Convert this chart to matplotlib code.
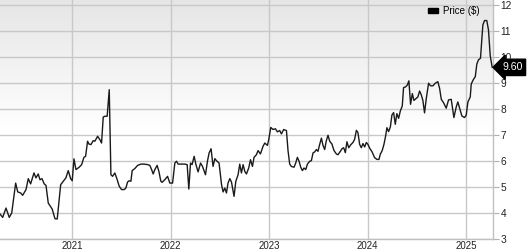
import numpy as np
import matplotlib
matplotlib.use("Agg")
import matplotlib.pyplot as plt
import matplotlib.transforms as mtransforms
from matplotlib.patches import Patch

plt.rcParams['font.family'] = ['Liberation Sans', 'DejaVu Sans']

# ---------------------------------------------------------------------------
# Data: weekly close price (x in decimal years)
# ---------------------------------------------------------------------------

years = [
    2020.267, 2020.294, 2020.328, 2020.361, 2020.386, 2020.402, 2020.426, 2020.447,
    2020.477, 2020.497, 2020.531, 2020.554, 2020.578, 2020.612, 2020.632, 2020.655,
    2020.673, 2020.693, 2020.716, 2020.734, 2020.757, 2020.774, 2020.797, 2020.825,
    2020.848, 2020.868, 2020.883, 2020.909, 2020.936, 2020.960, 2020.984, 2021.000,
    2021.018, 2021.038, 2021.071, 2021.096, 2021.119, 2021.136, 2021.156, 2021.170,
    2021.190, 2021.213, 2021.230, 2021.258, 2021.281, 2021.298, 2021.315, 2021.332,
    2021.355, 2021.376, 2021.393, 2021.410, 2021.433, 2021.457, 2021.477, 2021.501,
    2021.528, 2021.545, 2021.562, 2021.578, 2021.596, 2021.609, 2021.636, 2021.664,
    2021.697, 2021.731, 2021.765, 2021.788, 2021.806, 2021.822, 2021.839, 2021.862,
    2021.880, 2021.900, 2021.913, 2021.940, 2021.968, 2021.991, 2022.019, 2022.042,
    2022.059, 2022.075, 2022.110, 2022.143, 2022.167, 2022.184, 2022.201, 2022.217,
    2022.238, 2022.255, 2022.278, 2022.303, 2022.323, 2022.353, 2022.374, 2022.390,
    2022.410, 2022.430, 2022.448, 2022.465, 2022.491, 2022.516, 2022.532, 2022.549,
    2022.566, 2022.582, 2022.600, 2022.617, 2022.643, 2022.661, 2022.684, 2022.701,
    2022.718, 2022.735, 2022.752, 2022.769, 2022.792, 2022.810, 2022.830, 2022.846,
    2022.870, 2022.887, 2022.911, 2022.937, 2022.955, 2022.982, 2022.995, 2023.016,
    2023.039, 2023.063, 2023.083, 2023.107, 2023.124, 2023.147, 2023.175, 2023.191,
    2023.208, 2023.225, 2023.252, 2023.269, 2023.286, 2023.303, 2023.320, 2023.337,
    2023.353, 2023.371, 2023.388, 2023.411, 2023.428, 2023.445, 2023.462, 2023.479,
    2023.495, 2023.512, 2023.530, 2023.546, 2023.563, 2023.580, 2023.597, 2023.614,
    2023.637, 2023.658, 2023.682, 2023.698, 2023.722, 2023.739, 2023.756, 2023.773,
    2023.789, 2023.807, 2023.827, 2023.850, 2023.867, 2023.885, 2023.901, 2023.918,
    2023.935, 2023.952, 2023.969, 2023.986, 2024.002, 2024.020, 2024.043, 2024.070,
    2024.094, 2024.114, 2024.128, 2024.148, 2024.165, 2024.182, 2024.195, 2024.212,
    2024.230, 2024.246, 2024.263, 2024.280, 2024.296, 2024.314, 2024.331, 2024.351,
    2024.364, 2024.385, 2024.402, 2024.418, 2024.435, 2024.453, 2024.469, 2024.493,
    2024.509, 2024.527, 2024.544, 2024.560, 2024.577, 2024.595, 2024.618, 2024.638,
    2024.662, 2024.686, 2024.712, 2024.730, 2024.747, 2024.770, 2024.797, 2024.821,
    2024.848, 2024.875, 2024.899, 2024.915, 2024.932, 2024.956, 2024.983, 2025.000,
    2025.017, 2025.041, 2025.051, 2025.074, 2025.092, 2025.108, 2025.125, 2025.145,
    2025.169, 2025.186, 2025.209, 2025.226, 2025.244, 2025.264,
]

prices = [
    3.96, 3.83, 4.19, 3.83, 4.00, 4.45, 5.15, 4.81,
    4.77, 4.68, 4.90, 5.32, 5.12, 5.54, 5.35, 5.50,
    5.28, 5.32, 5.12, 5.06, 4.38, 4.28, 4.15, 3.78,
    3.77, 4.51, 5.09, 5.22, 5.35, 5.63, 5.32, 5.24,
    6.08, 5.67, 5.76, 5.86, 6.14, 6.18, 6.76, 6.65,
    6.63, 6.78, 6.76, 6.95, 6.82, 6.69, 7.69, 7.72,
    7.72, 8.74, 5.47, 5.41, 5.54, 5.28, 5.03, 4.90,
    4.90, 4.96, 5.19, 5.24, 5.22, 5.63, 5.71, 5.83,
    5.88, 5.88, 5.86, 5.83, 5.67, 5.50, 5.67, 5.83,
    5.60, 5.22, 5.18, 5.28, 5.41, 5.15, 5.15, 5.92,
    5.99, 5.88, 5.88, 5.88, 5.86, 4.92, 5.92, 5.86,
    6.18, 5.88, 5.58, 5.92, 5.79, 5.47, 6.01, 6.31,
    6.47, 5.79, 6.09, 6.01, 5.92, 5.09, 4.81, 4.96,
    4.77, 5.15, 5.32, 5.19, 4.64, 5.22, 5.47, 5.88,
    5.54, 5.86, 5.60, 5.50, 5.73, 6.05, 5.79, 6.14,
    6.24, 6.40, 6.27, 6.56, 6.69, 6.60, 6.82, 7.29,
    7.21, 7.24, 7.12, 7.17, 7.04, 7.21, 7.17, 6.40,
    5.88, 5.79, 5.76, 5.92, 6.14, 5.99, 5.76, 5.63,
    5.73, 5.67, 5.88, 5.99, 6.01, 6.31, 6.35, 6.44,
    6.37, 6.63, 6.88, 6.60, 6.44, 6.78, 6.99, 6.76,
    6.65, 6.40, 6.27, 6.24, 6.37, 6.47, 6.51, 6.32,
    6.74, 6.51, 6.62, 6.71, 6.83, 7.18, 7.09, 6.64,
    6.51, 6.67, 6.54, 6.71, 6.64, 6.49, 6.36, 6.13,
    6.06, 6.06, 6.26, 6.41, 6.64, 6.96, 7.28, 7.13,
    7.31, 7.77, 7.86, 7.41, 7.82, 7.64, 7.92, 8.12,
    8.82, 8.85, 8.92, 9.08, 8.18, 8.59, 8.33, 8.41,
    8.46, 8.69, 8.54, 8.33, 7.85, 8.41, 8.99, 8.89,
    8.89, 8.99, 9.05, 8.79, 8.37, 8.24, 8.03, 8.35,
    8.37, 7.67, 8.08, 8.27, 8.05, 7.73, 7.67, 7.76,
    8.27, 8.46, 8.96, 9.14, 9.24, 9.73, 9.89, 9.95,
    11.23, 11.40, 11.40, 11.04, 10.04, 9.60,
]

year_ticks  = [2021, 2022, 2023, 2024, 2025]
price_ticks = [3, 4, 5, 6, 7, 8, 9, 10, 11, 12]
last_label  = "9.60"
series_name = "Price ($)"

# ---------------------------------------------------------------------------
# Figure
# ---------------------------------------------------------------------------

fig = plt.figure(figsize=(5.27, 2.5), dpi=100)
ax = fig.add_axes([0.0, 11 / 250, 493 / 527, 239 / 250])

# background gradient: light grey at top, fading to white around mid-height
grad = np.linspace(0, 1, 256).reshape(-1, 1)
shade = np.clip((grad - 0.45) / 0.55, 0, 1)
top_c = np.array([0.90, 0.90, 0.90])
img = np.ones((256, 1, 3)) * (1 - shade[..., None]) + top_c * shade[..., None]
ax.imshow(img, extent=[0, 1, 0, 1], transform=ax.transAxes, origin='lower',
          aspect='auto', zorder=0, interpolation='bilinear')

ax.plot(years, prices, color='#1a1a1a', lw=1.0, zorder=3)

ax.set_xlim(2020.267, 2025.272)
ax.set_ylim(3, 12.19)

ax.set_xticks(year_ticks)
ax.set_xticklabels([str(y) for y in year_ticks])
ax.set_yticks(price_ticks)

ax.yaxis.tick_right()
ax.grid(True, color='#c8c8c8', lw=1.0, zorder=1)
ax.set_axisbelow(True)

for side in ['left', 'top']:
    ax.spines[side].set_visible(False)
for side in ['right', 'bottom']:
    ax.spines[side].set_color('#c0c0c0')
    ax.spines[side].set_linewidth(1.0)

ax.tick_params(axis='x', length=0, pad=1.5, labelsize=7, colors='#222222')
ax.tick_params(axis='y', length=4.5, width=0.8, color='#b0b0b0', pad=1.0,
               labelsize=7.3, labelcolor='#222222')

# legend
leg = ax.legend(handles=[Patch(facecolor='black', edgecolor='black')],
                labels=[series_name], loc='upper right', frameon=False,
                fontsize=7, handlelength=1.1, handleheight=0.45,
                handletextpad=0.5, borderaxespad=0.2,
                bbox_to_anchor=(0.985, 1.0))

# last price tag
trans = mtransforms.blended_transform_factory(ax.transAxes, ax.transData)
ax.annotate(last_label, xy=(1.0, prices[-1]), xycoords=trans,
            xytext=(6.5, 0), textcoords='offset points',
            ha='left', va='center', color='white', fontsize=7.6,
            bbox=dict(boxstyle='larrow,pad=0.3', fc='black', ec='black'),
            annotation_clip=False, zorder=5)

fig.savefig('out.png', dpi=100)
